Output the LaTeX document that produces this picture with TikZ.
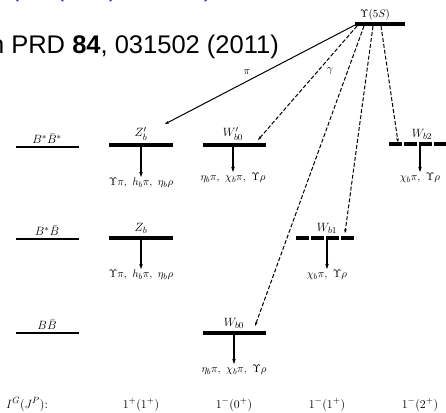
\documentclass[tikz,border=0pt]{standalone}
\usepackage{amsmath}
\usepackage{fontspec}
\newfontfamily\helv{Liberation Sans}
\usetikzlibrary{arrows.meta}
\definecolor{beamblue}{rgb}{0.2,0.2,0.7}
\begin{document}
\begin{tikzpicture}[x=1pt,y=-1pt,
  lvl/.style={line width=4pt},
  dlvl/.style={line width=4pt, dash pattern=on 13pt off 2pt},
  thr/.style={line width=1.2pt},
  decay/.style={line width=1.2pt,-{Stealth[length=5pt,width=3.5pt]}},
  trans/.style={line width=1pt,-{Stealth[length=4pt,width=2.8pt]}},
  dtrans/.style={trans, dash pattern=on 4pt off 2pt},
  lab/.style={font=\fontsize{12.5}{14}\selectfont, inner sep=1pt},
  slab/.style={font=\fontsize{11}{13}\selectfont, inner sep=1pt},
  ref/.style={font=\helv\fontsize{25.5}{28}\selectfont, inner sep=0pt},
]
\useasboundingbox (0,0) rectangle (446,412);

% cropped title and reference
\node[ref, text=beamblue, anchor=base] (p1) at (15,-3.5) {(};
\node[ref, text=beamblue, anchor=base] (p2) at (60,-3.5) {(};
\node[ref, text=beamblue, anchor=base] (p3) at (113,-3.5) {)};
\node[ref, text=beamblue, anchor=base] (p4) at (208,-3.5) {)};
\node[ref, anchor=base east] (prd) at (279,53) {n PRD \textbf{84}, 031502 (2011)};

% Upsilon(5S)
\draw[lvl] (355,24) coordinate (ua) -- (405,24) coordinate (ub);
\node[slab, anchor=south] (ups) at (375,21) {$\Upsilon(5S)$};
\coordinate (s1) at (355,25);
\coordinate (s2) at (357,26);
\coordinate (s3) at (364,26);
\coordinate (s4) at (373,26);
\coordinate (s5) at (381,26);

% thresholds
\draw[thr] (16,147) coordinate (t1a) -- (79,147) coordinate (t1b);
\node[lab, anchor=south] (t1) at (47,145) {$B^*\bar B^*$};
\draw[thr] (16,239) coordinate (t2a) -- (79,239) coordinate (t2b);
\node[lab, anchor=south] (t2) at (47,237) {$B^*\bar B$};
\draw[thr] (16,333) coordinate (t3a) -- (79,333) coordinate (t3b);
\node[lab, anchor=south] (t3) at (47,331) {$B\bar B$};

% Z'_b
\draw[lvl] (109,145) -- (173,145);
\node[lab, anchor=south] (zp) at (141,142) {$Z_b'$};
\coordinate (zpd) at (141,147);
\node[slab, anchor=north] (zpl) at (141,177) {$\Upsilon\pi,\ h_b\pi,\ \eta_b\rho$};
\draw[decay] (zpd) -- (zpl.north);

% W'_b0
\draw[lvl] (203,145) -- (266,145);
\node[lab, anchor=south] (wp) at (233,142) {$W_{b0}'$};
\coordinate (wpd) at (233,147);
\node[slab, anchor=north] (wpl) at (233,172) {$\eta_b\pi,\ \chi_b\pi,\ \Upsilon\rho$};
\draw[decay] (wpd) -- (wpl.north);

% W_b2
\draw[dlvl] (389,144) -- (452,144);
\node[lab, anchor=south] (w2) at (422,141) {$W_{b2}$};
\coordinate (w2d) at (420,146);
\node[slab, anchor=north] (w2l) at (420,172) {$\chi_b\pi,\ \Upsilon\rho$};
\draw[decay] (w2d) -- (w2l.north);

% Z_b
\draw[lvl] (109,238) -- (173,238);
\node[lab, anchor=south] (zb) at (141,235) {$Z_b$};
\coordinate (zbd) at (141,240);
\node[slab, anchor=north] (zbl) at (141,269) {$\Upsilon\pi,\ h_b\pi,\ \eta_b\rho$};
\draw[decay] (zbd) -- (zbl.north);

% W_b1
\draw[dlvl] (296,238) -- (356,238);
\node[lab, anchor=south] (w1) at (327,235) {$W_{b1}$};
\coordinate (w1d) at (327,240);
\node[slab, anchor=north] (w1l) at (327,269) {$\chi_b\pi,\ \Upsilon\rho$};
\draw[decay] (w1d) -- (w1l.north);

% W_b0
\draw[lvl] (203,333) -- (266,333);
\node[lab, anchor=south] (w0) at (234,330) {$W_{b0}$};
\coordinate (w0d) at (234,335);
\node[slab, anchor=north] (w0l) at (234,364) {$\eta_b\pi,\ \chi_b\pi,\ \Upsilon\rho$};
\draw[decay] (w0d) -- (w0l.north);

% transitions
\coordinate (e1) at (165,124);
\coordinate (e2) at (258,140);
\coordinate (e3) at (255,326);
\coordinate (e4) at (345,233);
\coordinate (e5) at (398,142);
\draw[trans] (s1) -- (e1);
\draw[dtrans] (s2) -- (e2);
\draw[dtrans] (s3) -- (e3);
\draw[dtrans] (s4) -- (e4);
\draw[dtrans] (s5) -- (e5);
\node[slab] (pi) at (247,72) {$\pi$};
\node[slab] (ga) at (330,71) {$\gamma$};

% quantum numbers
\node[lab, anchor=base west] (qn) at (5,408) {$I^G(J^P)$:};
\node[lab, anchor=base] (q1) at (141,408) {$1^+(1^+)$};
\node[lab, anchor=base] (q2) at (234,408) {$1^-(0^+)$};
\node[lab, anchor=base] (q3) at (327,408) {$1^-(1^+)$};
\node[lab, anchor=base] (q4) at (420,408) {$1^-(2^+)$};
\end{tikzpicture}
\end{document}
